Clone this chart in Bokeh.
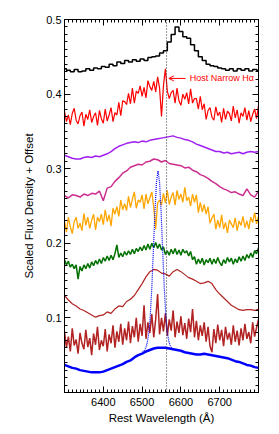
from bokeh.plotting import figure
from bokeh.models import Range1d, FixedTicker, LinearAxis, Span, Arrow, OpenHead, CustomJSTickFormatter
from bokeh.core.properties import value
from bokeh.embed import file_html
from bokeh.resources import INLINE

# ---------------- data ----------------
wave10 = [6300 + 10 * i for i in range(51)]
wave5 = [6300 + 5 * i for i in range(101)]

black_flux = [0.434, 0.432, 0.430, 0.433, 0.430, 0.431, 0.434, 0.432, 0.435, 0.434,
              0.437, 0.436, 0.440, 0.438, 0.443, 0.441, 0.445, 0.443, 0.446, 0.444,
              0.447, 0.445, 0.449, 0.450, 0.451, 0.455, 0.458, 0.470, 0.480, 0.490,
              0.484, 0.477, 0.475, 0.466, 0.458, 0.450, 0.445, 0.440, 0.438, 0.437,
              0.435, 0.434, 0.432, 0.434, 0.431, 0.434, 0.432, 0.434, 0.431, 0.433, 0.432]

red_flux = [0.377, 0.363, 0.372, 0.359, 0.374, 0.381, 0.365, 0.360, 0.371, 0.376,
            0.357, 0.373, 0.366, 0.379, 0.362, 0.370, 0.375, 0.358, 0.378, 0.367,
            0.361, 0.380, 0.364, 0.372, 0.382, 0.363, 0.375, 0.372, 0.389, 0.371,
            0.391, 0.390, 0.386, 0.401, 0.387, 0.408, 0.388, 0.404, 0.401, 0.411,
            0.397, 0.409, 0.395, 0.418, 0.410, 0.405, 0.417, 0.403, 0.423, 0.408,
            0.370, 0.411, 0.434, 0.404, 0.394, 0.402, 0.405, 0.388, 0.408, 0.391,
            0.385, 0.400, 0.393, 0.402, 0.387, 0.407, 0.388, 0.394, 0.394, 0.380,
            0.397, 0.379, 0.387, 0.366, 0.378, 0.382, 0.369, 0.365, 0.383, 0.371,
            0.376, 0.362, 0.381, 0.366, 0.377, 0.374, 0.364, 0.384, 0.368, 0.379,
            0.361, 0.375, 0.370, 0.382, 0.365, 0.378, 0.363, 0.373, 0.380, 0.367, 0.385]

purple_flux = [0.318, 0.316, 0.314, 0.313, 0.313, 0.315, 0.316, 0.315, 0.317, 0.316,
               0.318, 0.320, 0.323, 0.327, 0.330, 0.332, 0.334, 0.335, 0.336, 0.335,
               0.337, 0.336, 0.338, 0.339, 0.340, 0.341, 0.342, 0.343, 0.344, 0.342,
               0.341, 0.339, 0.338, 0.336, 0.333, 0.331, 0.329, 0.327, 0.325, 0.323,
               0.323, 0.321, 0.322, 0.320, 0.321, 0.322, 0.320, 0.322, 0.323, 0.322, 0.323]

magenta_flux = [0.264, 0.261, 0.265, 0.264, 0.262, 0.266, 0.264, 0.267, 0.266, 0.270,
                0.257, 0.274, 0.276, 0.283, 0.288, 0.294, 0.297, 0.302, 0.304, 0.306,
                0.305, 0.309, 0.310, 0.313, 0.312, 0.309, 0.311, 0.307, 0.306, 0.305,
                0.304, 0.301, 0.302, 0.298, 0.296, 0.292, 0.290, 0.287, 0.283, 0.280,
                0.276, 0.273, 0.271, 0.268, 0.269, 0.266, 0.264, 0.273, 0.265, 0.262, 0.270]

orange_flux = [0.230, 0.215, 0.235, 0.222, 0.213, 0.229, 0.235, 0.220, 0.227, 0.217,
               0.240, 0.224, 0.235, 0.220, 0.231, 0.239, 0.218, 0.235, 0.229, 0.239,
               0.225, 0.245, 0.229, 0.238, 0.223, 0.247, 0.239, 0.249, 0.236, 0.258,
               0.245, 0.253, 0.244, 0.263, 0.248, 0.259, 0.269, 0.247, 0.258, 0.255,
               0.265, 0.246, 0.266, 0.253, 0.261, 0.269, 0.248, 0.219, 0.254, 0.258,
               0.251, 0.267, 0.254, 0.271, 0.252, 0.262, 0.268, 0.251, 0.271, 0.259,
               0.266, 0.255, 0.275, 0.257, 0.262, 0.250, 0.266, 0.255, 0.265, 0.241,
               0.255, 0.242, 0.252, 0.239, 0.249, 0.227, 0.234, 0.239, 0.219, 0.231,
               0.221, 0.238, 0.219, 0.228, 0.214, 0.231, 0.226, 0.221, 0.234, 0.217,
               0.230, 0.224, 0.236, 0.221, 0.230, 0.219, 0.235, 0.228, 0.241, 0.226, 0.236]

green_flux = [0.178, 0.171, 0.176, 0.168, 0.172, 0.166, 0.171, 0.152, 0.169, 0.163,
              0.171, 0.166, 0.173, 0.167, 0.175, 0.170, 0.177, 0.172, 0.179, 0.173,
              0.181, 0.176, 0.183, 0.177, 0.184, 0.178, 0.186, 0.198, 0.181, 0.187,
              0.182, 0.189, 0.184, 0.190, 0.185, 0.192, 0.186, 0.193, 0.189, 0.195,
              0.190, 0.197, 0.191, 0.199, 0.192, 0.200, 0.194, 0.201, 0.193, 0.199,
              0.191, 0.195, 0.185, 0.190, 0.184, 0.192, 0.186, 0.193, 0.185, 0.191,
              0.184, 0.192, 0.187, 0.190, 0.183, 0.189, 0.178, 0.182, 0.172, 0.179,
              0.173, 0.180, 0.171, 0.178, 0.174, 0.180, 0.172, 0.179, 0.173, 0.181,
              0.174, 0.170, 0.178, 0.173, 0.181, 0.175, 0.180, 0.172, 0.179, 0.174,
              0.182, 0.176, 0.183, 0.177, 0.185, 0.180, 0.187, 0.181, 0.190, 0.186, 0.194]

brown_smooth_flux = [0.130, 0.124, 0.119, 0.116, 0.112, 0.110, 0.107, 0.104, 0.101, 0.103,
                     0.104, 0.108, 0.106, 0.112, 0.116, 0.115, 0.122, 0.125, 0.130, 0.138,
                     0.146, 0.155, 0.162, 0.165, 0.164, 0.160, 0.159, 0.156, 0.162, 0.165,
                     0.162, 0.158, 0.154, 0.152, 0.149, 0.146, 0.147, 0.149, 0.146, 0.138,
                     0.132, 0.127, 0.122, 0.117, 0.114, 0.111, 0.110, 0.111, 0.111, 0.110, 0.112]

brown_noisy_flux = [0.082, 0.060, 0.075, 0.055, 0.086, 0.063, 0.071, 0.052, 0.080, 0.066,
                    0.058, 0.084, 0.061, 0.073, 0.050, 0.079, 0.064, 0.088, 0.057, 0.070,
                    0.062, 0.085, 0.055, 0.078, 0.066, 0.090, 0.060, 0.082, 0.068, 0.092,
                    0.064, 0.086, 0.070, 0.095, 0.066, 0.089, 0.074, 0.100, 0.068, 0.092,
                    0.076, 0.117, 0.072, 0.094, 0.080, 0.105, 0.074, 0.098, 0.132, 0.078,
                    0.100, 0.082, 0.106, 0.076, 0.098, 0.083, 0.110, 0.074, 0.095, 0.080,
                    0.102, 0.077, 0.093, 0.072, 0.099, 0.081, 0.112, 0.074, 0.096, 0.070,
                    0.090, 0.076, 0.094, 0.068, 0.088, 0.062, 0.054, 0.085, 0.066, 0.091,
                    0.070, 0.084, 0.062, 0.088, 0.071, 0.080, 0.064, 0.090, 0.068, 0.083,
                    0.063, 0.086, 0.070, 0.092, 0.072, 0.081, 0.066, 0.094, 0.075, 0.087, 0.098]

blue_flux = [0.037, 0.035, 0.033, 0.032, 0.030, 0.029, 0.028, 0.027, 0.027, 0.027,
             0.028, 0.030, 0.032, 0.034, 0.036, 0.038, 0.041, 0.043, 0.047, 0.050,
             0.052, 0.055, 0.057, 0.059, 0.060, 0.060, 0.060, 0.059, 0.058, 0.057,
             0.056, 0.054, 0.053, 0.052, 0.051, 0.051, 0.052, 0.051, 0.050, 0.049,
             0.048, 0.047, 0.046, 0.044, 0.042, 0.041, 0.039, 0.037, 0.036, 0.034, 0.033]

narrow_wave = [6501, 6505, 6509, 6513, 6517, 6521, 6525, 6529, 6533, 6537, 6541,
               6545, 6549, 6553, 6557, 6561, 6565, 6569, 6573, 6577, 6581]
narrow_flux = [0.054, 0.056, 0.059, 0.066, 0.079, 0.102, 0.140, 0.190, 0.241, 0.282, 0.297,
               0.282, 0.242, 0.191, 0.142, 0.105, 0.081, 0.068, 0.062, 0.059, 0.058]

halpha_rest = 6563
x_ticks = [6400, 6500, 6600, 6700]
y_ticks = [0.1, 0.2, 0.3, 0.4, 0.5]
note_text = ["Host Narrow H\u03b1"]
note_x = [6623]
note_y = [0.421]
arrow_from = 6612
arrow_to = 6569

# ---------------- figure ----------------
FONT = "Liberation Sans"

p = figure(width=270, height=426, output_backend="svg", toolbar_location=None,
           x_range=Range1d(6300, 6800), y_range=Range1d(0, 0.5),
           min_border_left=64, min_border_right=12, min_border_top=19, min_border_bottom=33,
           background_fill_color="white", border_fill_color="white")
p.outline_line_color = "black"
p.outline_line_width = 1
p.xgrid.visible = False
p.ygrid.visible = False

xminor = list(range(6300, 6801, 10))
yminor = [round(0.01 * k, 2) for k in range(0, 51)]
xt = FixedTicker(ticks=x_ticks, minor_ticks=xminor)
yt = FixedTicker(ticks=y_ticks, minor_ticks=yminor)


def style(ax, labels=True):
    ax.axis_line_color = "black"
    ax.major_tick_in = 6
    ax.major_tick_out = 0
    ax.minor_tick_in = 3
    ax.minor_tick_out = 0
    ax.major_tick_line_color = "black"
    ax.minor_tick_line_color = "black"
    if labels:
        ax.major_label_text_font = FONT
        ax.major_label_text_font_size = "11px"
        ax.major_label_text_color = "black"
        ax.axis_label_text_font = FONT
        ax.axis_label_text_font_size = "11.5px"
        ax.axis_label_text_font_style = "normal"
        ax.axis_label_text_color = "black"
    else:
        ax.formatter = CustomJSTickFormatter(code="return ''")
        ax.major_label_text_font_size = "1px"
        ax.major_label_standoff = 0


p.xaxis.ticker = xt
p.yaxis.ticker = yt
style(p.xaxis[0])
style(p.yaxis[0])
p.xaxis.axis_label = "Rest Wavelength (\u00c5)"
p.yaxis.axis_label = "Scaled Flux Density + Offset"
p.xaxis.major_label_standoff = 5
p.xaxis.axis_label_standoff = 3
p.yaxis.major_label_standoff = 3
p.yaxis.axis_label_standoff = 8

top_ax = LinearAxis(ticker=FixedTicker(ticks=x_ticks, minor_ticks=xminor))
style(top_ax, labels=False)
p.add_layout(top_ax, "above")
right_ax = LinearAxis(ticker=FixedTicker(ticks=y_ticks, minor_ticks=yminor))
style(right_ax, labels=False)
p.add_layout(right_ax, "right")

# spectra
p.step(wave10, black_flux, mode="center", line_color="black", line_width=1.5)
p.line(wave5, red_flux, line_color="#FF0000", line_width=1.2)
p.line(wave10, purple_flux, line_color="#A020F0", line_width=1.5)
p.line(wave10, magenta_flux, line_color="#CC2E8F", line_width=1.5)
p.line(wave5, orange_flux, line_color="#FFA500", line_width=1.3)
p.line(wave5, green_flux, line_color="#007000", line_width=1.5)
p.line(wave10, brown_smooth_flux, line_color="#B22222", line_width=1.2)
p.line(wave5, brown_noisy_flux, line_color="#B22222", line_width=1.5)
p.line(wave10, blue_flux, line_color="#0000FF", line_width=2.5)
p.line(narrow_wave, narrow_flux, line_color="#0000FF", line_width=1.2, line_dash="1 1")

p.add_layout(Span(location=halpha_rest, dimension="height", line_color="#333333",
                  line_width=1, line_dash="1 2"))

p.text(x=note_x, y=note_y, text=note_text, text_color="#FF0000",
       text_font=value(FONT), text_font_size="9px", text_baseline="middle", text_align="left")
p.add_layout(Arrow(end=OpenHead(size=5, line_color="#FF0000", line_width=1),
                   x_start=arrow_from, y_start=note_y[0], x_end=arrow_to, y_end=note_y[0],
                   line_color="#FF0000", line_width=1))

open("out.html", "w").write(file_html(p, INLINE))
